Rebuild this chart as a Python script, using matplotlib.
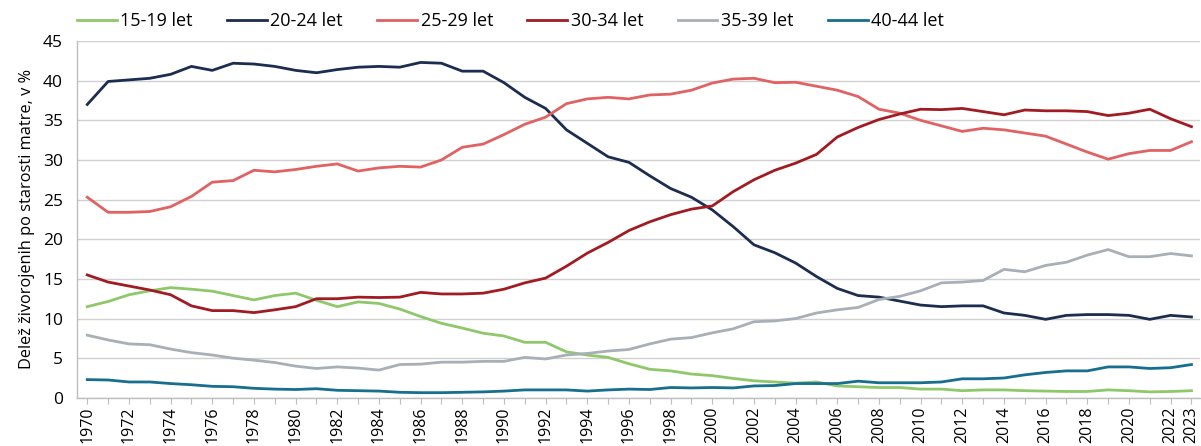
import matplotlib
matplotlib.use("Agg")
import matplotlib.pyplot as plt

plt.rcParams["font.family"] = ["Open Sans", "DejaVu Sans"]

years = list(range(1970, 2024))

age_15_19 = [11.5, 12.15, 13.0, 13.5, 13.9, 13.7, 13.45, 12.9, 12.35, 12.9,
             13.2, 12.3, 11.5, 12.1, 11.9, 11.2, 10.25, 9.4, 8.8, 8.15,
             7.8, 7.0, 7.0, 5.8, 5.4, 5.1, 4.3, 3.6, 3.4, 3.0,
             2.8, 2.45, 2.15, 2.0, 1.85, 2.0, 1.5, 1.4, 1.3, 1.3,
             1.1, 1.1, 0.9, 1.0, 1.0, 0.9, 0.85, 0.8, 0.8, 1.0,
             0.9, 0.75, 0.8, 0.9]
age_20_24 = [37.0, 39.9, 40.1, 40.3, 40.8, 41.8, 41.3, 42.2, 42.1, 41.8,
             41.3, 41.0, 41.4, 41.7, 41.8, 41.7, 42.3, 42.2, 41.2, 41.2,
             39.75, 37.9, 36.5, 33.8, 32.1, 30.4, 29.7, 28.0, 26.4, 25.3,
             23.7, 21.6, 19.3, 18.3, 17.0, 15.3, 13.8, 12.9, 12.7, 12.2,
             11.7, 11.5, 11.6, 11.6, 10.7, 10.4, 9.9, 10.4, 10.5, 10.5,
             10.4, 9.9, 10.4, 10.2]
age_25_29 = [25.3, 23.4, 23.4, 23.5, 24.1, 25.4, 27.2, 27.4, 28.7, 28.5,
             28.8, 29.2, 29.5, 28.6, 29.0, 29.2, 29.1, 30.0, 31.6, 32.0,
             33.2, 34.5, 35.4, 37.1, 37.7, 37.9, 37.7, 38.2, 38.3, 38.8,
             39.7, 40.2, 40.3, 39.75, 39.8, 39.3, 38.8, 38.0, 36.4, 35.9,
             35.0, 34.3, 33.6, 34.0, 33.8, 33.4, 33.0, 32.0, 31.0, 30.1,
             30.8, 31.2, 31.2, 32.3]
age_30_34 = [15.5, 14.6, 14.1, 13.6, 13.0, 11.6, 11.0, 11.0, 10.75, 11.1,
             11.5, 12.5, 12.5, 12.7, 12.65, 12.7, 13.3, 13.1, 13.1, 13.2,
             13.7, 14.5, 15.1, 16.6, 18.25, 19.6, 21.1, 22.2, 23.1, 23.8,
             24.2, 26.0, 27.5, 28.7, 29.6, 30.7, 32.9, 34.1, 35.1, 35.8,
             36.4, 36.35, 36.5, 36.1, 35.7, 36.3, 36.2, 36.2, 36.1, 35.6,
             35.9, 36.4, 35.2, 34.2]
age_35_39 = [7.9, 7.3, 6.8, 6.7, 6.15, 5.7, 5.4, 5.0, 4.75, 4.45,
             4.0, 3.7, 3.9, 3.75, 3.5, 4.2, 4.25, 4.5, 4.5, 4.6,
             4.6, 5.1, 4.9, 5.4, 5.6, 5.9, 6.1, 6.8, 7.4, 7.6,
             8.2, 8.7, 9.6, 9.7, 10.0, 10.7, 11.1, 11.4, 12.4, 12.8,
             13.5, 14.5, 14.6, 14.8, 16.2, 15.9, 16.7, 17.1, 18.0, 18.7,
             17.8, 17.8, 18.2, 17.9]
age_40_44 = [2.3, 2.25, 2.0, 2.0, 1.8, 1.65, 1.45, 1.4, 1.2, 1.1,
             1.05, 1.15, 0.95, 0.9, 0.85, 0.7, 0.65, 0.65, 0.7, 0.75,
             0.85, 1.0, 1.0, 1.0, 0.85, 1.0, 1.1, 1.05, 1.3, 1.25,
             1.3, 1.25, 1.5, 1.55, 1.8, 1.8, 1.8, 2.1, 1.9, 1.9,
             1.9, 2.0, 2.4, 2.4, 2.5, 2.9, 3.2, 3.4, 3.4, 3.9,
             3.9, 3.7, 3.8, 4.2]

series = [
    ("15-19 let", age_15_19, "#8ec86a"),
    ("20-24 let", age_20_24, "#1c2d4f"),
    ("25-29 let", age_25_29, "#e06262"),
    ("30-34 let", age_30_34, "#a11c22"),
    ("35-39 let", age_35_39, "#a9afb7"),
    ("40-44 let", age_40_44, "#176e8e"),
]

fig = plt.figure(figsize=(12.01, 4.46), dpi=100)
ax = fig.add_axes([0.064, 0.108, 0.935, 0.8])

for label, vals, col in series:
    ax.plot(years, vals, color=col, lw=2.0, label=label)

ax.set_ylim(0, 45)
ax.set_yticks(range(0, 46, 5))
ax.set_xlim(1969.5, 2023.4)
ax.set_xticks(years)
ax.set_xticklabels([str(y) if (y % 2 == 0 or y == 2023) else "" for y in years],
                   rotation=90)
ax.tick_params(axis="x", length=4, color="#bdbdbd", labelsize=11.5, pad=2)
ax.tick_params(axis="y", length=0, labelsize=12.5, pad=10)
ax.grid(axis="y", color="#d0d0d0", lw=1.0)
ax.set_axisbelow(True)
for s in ["top", "right"]:
    ax.spines[s].set_visible(False)
for s in ["left", "bottom"]:
    ax.spines[s].set_color("#bdbdbd")
    ax.spines[s].set_linewidth(1.0)

ax.set_ylabel("Delež živorojenih po starosti matre, v %", fontsize=11.8, labelpad=6)

ax.legend(loc="lower left", bbox_to_anchor=(0.0, 1.03), ncol=6, frameon=False,
          fontsize=13, handlelength=2.2, handletextpad=0.2, columnspacing=1.9,
          borderaxespad=0, borderpad=0)

plt.savefig("out.png", dpi=100)
